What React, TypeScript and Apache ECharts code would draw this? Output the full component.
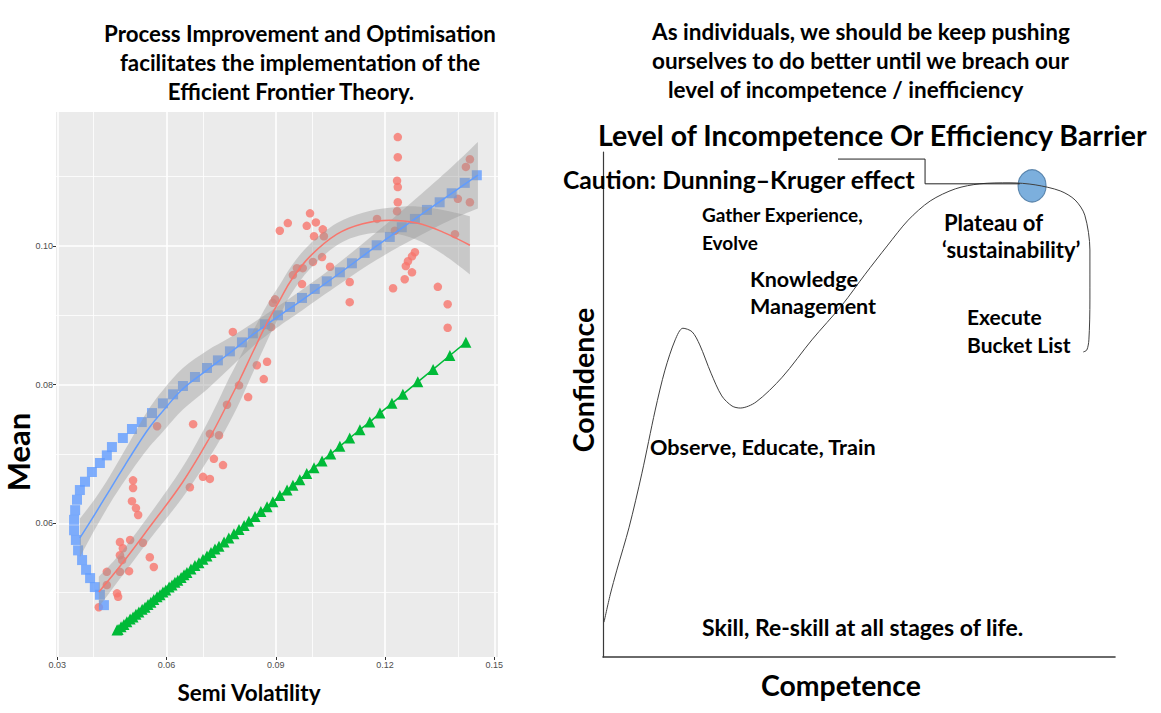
import React, { useEffect, useRef } from "react";
import * as echarts from "echarts";

// ---------- Left chart: tick / grid values ----------
const xMajor = [0.03, 0.06, 0.09, 0.12, 0.15];
const xMinor = [0.045, 0.075, 0.105, 0.135];
const yMajor = [0.06, 0.08, 0.1];
const yMinor = [0.05, 0.07, 0.09, 0.11];

// ---------- Left chart: data ----------
const redPoints = [
  [0.0414, 0.0479], [0.0436, 0.053], [0.0436, 0.0511], [0.0464, 0.0499], [0.0467, 0.0494],
  [0.0472, 0.053], [0.0497, 0.0531], [0.0472, 0.0573], [0.05, 0.0576], [0.0535, 0.0572],
  [0.048, 0.0564], [0.0472, 0.0554], [0.0478, 0.0547], [0.0554, 0.0551], [0.0565, 0.0537],
  [0.0508, 0.0662], [0.0508, 0.0651], [0.0505, 0.0632], [0.0516, 0.0622], [0.0522, 0.0612],
  [0.0574, 0.074], [0.0664, 0.0652], [0.0673, 0.0743], [0.07, 0.0667], [0.0719, 0.0664],
  [0.0719, 0.0729], [0.0744, 0.0727], [0.073, 0.0693], [0.0755, 0.0684], [0.0766, 0.0771],
  [0.0799, 0.0799], [0.0824, 0.0782], [0.0782, 0.0876], [0.0848, 0.0828], [0.0876, 0.0833],
  [0.0867, 0.0808], [0.0887, 0.0883], [0.0892, 0.0918], [0.0898, 0.0923], [0.0911, 0.1022],
  [0.0933, 0.1033], [0.0994, 0.1047], [0.0985, 0.1029], [0.101, 0.1034], [0.1029, 0.1024],
  [0.1005, 0.1014], [0.1032, 0.1014], [0.0947, 0.0958], [0.0958, 0.0968], [0.0974, 0.0968],
  [0.0972, 0.0945], [0.1002, 0.0977], [0.1027, 0.0984], [0.1049, 0.097], [0.1103, 0.0948],
  [0.1103, 0.0919], [0.1178, 0.1039], [0.1235, 0.1157], [0.1235, 0.1128], [0.1233, 0.1094],
  [0.1235, 0.1085], [0.1235, 0.1063], [0.1233, 0.105], [0.1227, 0.1022], [0.1282, 0.0991],
  [0.1274, 0.0985], [0.1263, 0.0978], [0.1257, 0.0971], [0.1274, 0.0962], [0.1254, 0.0952],
  [0.1222, 0.0939], [0.1345, 0.0941], [0.1372, 0.0916], [0.1372, 0.0882], [0.1392, 0.1017],
  [0.14, 0.1068], [0.1433, 0.1063], [0.1422, 0.1114], [0.1433, 0.1125],
];

const bluePoints = [
  [0.0428, 0.0482], [0.0417, 0.0497], [0.0403, 0.0508], [0.039, 0.0521], [0.0379, 0.0533],
  [0.0368, 0.0547], [0.0357, 0.0561], [0.0351, 0.0576], [0.0346, 0.059], [0.0346, 0.0605],
  [0.0349, 0.0619], [0.0354, 0.0634], [0.0362, 0.0648], [0.0376, 0.066], [0.0395, 0.0674],
  [0.0417, 0.0687], [0.0436, 0.0698], [0.045, 0.071], [0.048, 0.0723], [0.0505, 0.0736],
  [0.0532, 0.0746], [0.056, 0.0759], [0.059, 0.0773], [0.0618, 0.0786], [0.0645, 0.0798],
  [0.0678, 0.0811], [0.0711, 0.0824], [0.0741, 0.0835], [0.0774, 0.0848], [0.0807, 0.0861],
  [0.0837, 0.0874], [0.087, 0.0887], [0.0906, 0.09], [0.0939, 0.0912], [0.0972, 0.0925],
  [0.1007, 0.0938], [0.104, 0.0949], [0.1076, 0.0962], [0.1109, 0.0975], [0.1144, 0.099],
  [0.1177, 0.1001], [0.1213, 0.1013], [0.1246, 0.1027], [0.1282, 0.1039], [0.1315, 0.1052],
  [0.135, 0.1063], [0.1383, 0.1076], [0.1419, 0.1091], [0.1452, 0.1102],
];

const greenPoints = [
  [0.0464, 0.0446], [0.0467, 0.0447], [0.0475, 0.0451], [0.0483, 0.0454], [0.0491, 0.0458],
  [0.05, 0.0462], [0.0508, 0.0465], [0.0516, 0.0469], [0.0524, 0.0472], [0.0533, 0.0476],
  [0.0541, 0.0479], [0.0549, 0.0483], [0.0557, 0.0486], [0.0565, 0.049], [0.0574, 0.0494],
  [0.0582, 0.0497], [0.059, 0.0501], [0.0598, 0.0504], [0.0607, 0.0508], [0.0615, 0.0511],
  [0.0623, 0.0515], [0.0631, 0.0518], [0.064, 0.0522], [0.0648, 0.0526], [0.0656, 0.0529],
  [0.0667, 0.0534], [0.0678, 0.0539], [0.0689, 0.0543], [0.07, 0.0548], [0.0711, 0.0553],
  [0.0722, 0.0558], [0.0733, 0.0563], [0.0744, 0.0567], [0.0758, 0.0573], [0.0771, 0.0579],
  [0.0785, 0.0585], [0.0799, 0.0591], [0.0813, 0.0597], [0.0826, 0.0603], [0.0843, 0.061],
  [0.0859, 0.0617], [0.0876, 0.0624], [0.0892, 0.0631], [0.0911, 0.064], [0.0931, 0.0648],
  [0.0947, 0.0655], [0.0966, 0.0663], [0.0985, 0.0672], [0.1005, 0.068], [0.1027, 0.069],
  [0.1051, 0.07], [0.1076, 0.0711], [0.1103, 0.0723], [0.1131, 0.0735], [0.1158, 0.0746],
  [0.1186, 0.0759], [0.1219, 0.0773], [0.1249, 0.0786], [0.129, 0.0804], [0.1332, 0.0822],
  [0.1378, 0.0842], [0.1422, 0.0861],
];

// smooth fits (loess) with confidence band
const blueFitX = [0.0362, 0.0403, 0.0445, 0.0486, 0.0522, 0.0554, 0.059, 0.0645, 0.0711, 0.0774, 0.0837, 0.0903, 0.0972, 0.1076, 0.1177, 0.1282, 0.1383, 0.1455];
const blueFitY = [0.0579, 0.0613, 0.0649, 0.0684, 0.0714, 0.0739, 0.0762, 0.0794, 0.0821, 0.0846, 0.0872, 0.0897, 0.0922, 0.0961, 0.1, 0.1039, 0.1076, 0.1102];
const blueLow = [0.0551, 0.0591, 0.0629, 0.0662, 0.0689, 0.0711, 0.0732, 0.0764, 0.0793, 0.0824, 0.0855, 0.0882, 0.0907, 0.0945, 0.098, 0.1011, 0.1038, 0.1054];
const blueHigh = [0.0607, 0.0635, 0.0669, 0.0706, 0.0739, 0.0767, 0.0792, 0.0824, 0.0849, 0.0868, 0.0889, 0.0912, 0.0937, 0.0977, 0.102, 0.1067, 0.1114, 0.115];

const redFitX = [0.0414, 0.0472, 0.0554, 0.0645, 0.0719, 0.0766, 0.0801, 0.0837, 0.0876, 0.0911, 0.0944, 0.0994, 0.1068, 0.1139, 0.1213, 0.1287, 0.1359, 0.1433];
const redFitY = [0.0501, 0.0538, 0.0595, 0.066, 0.0724, 0.0771, 0.0807, 0.0847, 0.0889, 0.0922, 0.0952, 0.0985, 0.1017, 0.1032, 0.1037, 0.1033, 0.102, 0.1001];
const redLow = [0.0479, 0.052, 0.0577, 0.0638, 0.0696, 0.0739, 0.0775, 0.0817, 0.0863, 0.09, 0.0932, 0.0967, 0.1001, 0.1016, 0.1019, 0.1009, 0.0988, 0.0959];
const redHigh = [0.0523, 0.0556, 0.0613, 0.0682, 0.0752, 0.0803, 0.0839, 0.0877, 0.0915, 0.0944, 0.0972, 0.1003, 0.1033, 0.1048, 0.1055, 0.1057, 0.1052, 0.1043];

// ---------- Right diagram: data (competence 0-100, confidence 0-100) ----------
const curveX = [0.2, 1.4, 2.7, 5.1, 7.6, 10.2, 12.1, 14.1, 15.6, 17.4, 18.9, 21.1, 23.2, 25.2, 26.8, 29.9, 35.0, 40.8, 46.7, 51.2, 55.5, 59.6, 63.9, 68.8, 73.6, 79.5, 84.4, 89.3, 92.2, 94.1, 95.1, 95.1, 94.9, 94.5, 93.8];
const curveY = [6.9, 12.3, 17.2, 25.7, 36.4, 48.9, 56.8, 62.8, 65.1, 64.4, 61.8, 56.2, 51.7, 49.7, 49.3, 50.5, 55.4, 62.8, 69.7, 75.8, 81.4, 86.5, 90.3, 92.7, 93.7, 93.9, 93.5, 92.3, 90.5, 87.5, 80.6, 70.7, 62.8, 60.8, 60.4];
const barrierPoint = [83.8, 93.3];
const connectorX = [45.9, 62.9, 62.9, 81.4];
const connectorY = [98.6, 98.6, 93.7, 93.7];

const FONT = "Lato, 'Open Sans', sans-serif";
const TICK_FONT = "'Liberation Sans', Arial, sans-serif";

const zip = (xs: number[], ys: number[]) => xs.map((x, i) => [x, ys[i]]);

function text(t: string, x: number, y: number, size: number, align = "left", rotate = 0) {
  return {
    type: "text",
    x,
    y,
    rotation: rotate,
    silent: true,
    z: 20,
    style: {
      text: t,
      fill: "#000",
      font: `bold ${size}px ${FONT}`,
      align,
      verticalAlign: "middle",
    },
  };
}

// Catmull-Rom spline through pixel points, as SVG path commands
function splinePath(pts: number[][], start: "M" | "L") {
  let d = `${start}${pts[0][0].toFixed(2)},${pts[0][1].toFixed(2)}`;
  for (let i = 0; i < pts.length - 1; i++) {
    const p0 = pts[i - 1] || pts[i];
    const p1 = pts[i];
    const p2 = pts[i + 1];
    const p3 = pts[i + 2] || p2;
    const c1x = p1[0] + (p2[0] - p0[0]) / 6;
    const c1y = p1[1] + (p2[1] - p0[1]) / 6;
    const c2x = p2[0] - (p3[0] - p1[0]) / 6;
    const c2y = p2[1] - (p3[1] - p1[1]) / 6;
    d += ` C${c1x.toFixed(2)},${c1y.toFixed(2)} ${c2x.toFixed(2)},${c2y.toFixed(2)} ${p2[0].toFixed(2)},${p2[1].toFixed(2)}`;
  }
  return d;
}

function bandSeries(xs: number[], low: number[], high: number[]) {
  return {
    type: "custom",
    xAxisIndex: 0,
    yAxisIndex: 0,
    data: [[xs[0], low[0]]],
    silent: true,
    clip: true,
    z: 3,
    renderItem: (_params: any, api: any) => {
      const up: number[][] = [];
      const lo: number[][] = [];
      for (let i = 0; i < xs.length; i++) up.push(api.coord([xs[i], high[i]]));
      for (let i = xs.length - 1; i >= 0; i--) lo.push(api.coord([xs[i], low[i]]));
      const d = splinePath(up, "M") + " " + splinePath(lo, "L") + " Z";
      return {
        type: "path",
        shape: { pathData: d },
        style: { fill: "rgba(153,153,153,0.42)" },
        silent: true,
      };
    },
  };
}

function buildOption() {
  const gridLines = [
    ...xMajor.map((v) => ({ xAxis: v, lineStyle: { width: 1.6 } })),
    ...xMinor.map((v) => ({ xAxis: v, lineStyle: { width: 0.8 } })),
    ...yMajor.map((v) => ({ yAxis: v, lineStyle: { width: 1.6 } })),
    ...yMinor.map((v) => ({ yAxis: v, lineStyle: { width: 0.8 } })),
  ];

  return {
    animation: false,
    grid: [
      { left: 56, top: 112, width: 442, height: 545, show: true, backgroundColor: "#EBEBEB", borderWidth: 0 },
      { left: 603, top: 152, width: 512, height: 505, show: false },
    ],
    xAxis: [
      {
        type: "value",
        gridIndex: 0,
        min: 0.02964,
        max: 0.15102,
        axisLine: { show: false },
        splitLine: { show: false },
        axisTick: { show: true, customValues: xMajor, length: 3, lineStyle: { color: "#333", width: 1 } },
        axisLabel: {
          show: true,
          customValues: xMajor,
          formatter: (v: number) => v.toFixed(2),
          color: "#4D4D4D",
          fontSize: 9,
          margin: 3,
          fontFamily: TICK_FONT,
        },
      },
      {
        type: "value",
        gridIndex: 1,
        min: 0,
        max: 100,
        axisLine: { show: true, onZero: false, lineStyle: { color: "#3a3a3a", width: 1.6 } },
        axisTick: { show: false },
        axisLabel: { show: false },
        splitLine: { show: false },
      },
    ],
    yAxis: [
      {
        type: "value",
        gridIndex: 0,
        min: 0.04072,
        max: 0.11932,
        axisLine: { show: false },
        splitLine: { show: false },
        axisTick: { show: true, customValues: yMajor, length: 3, lineStyle: { color: "#333", width: 1 } },
        axisLabel: {
          show: true,
          customValues: yMajor,
          formatter: (v: number) => v.toFixed(2),
          color: "#4D4D4D",
          fontSize: 9,
          margin: 3,
          fontFamily: TICK_FONT,
        },
      },
      {
        type: "value",
        gridIndex: 1,
        min: 0,
        max: 100,
        axisLine: { show: true, onZero: false, lineStyle: { color: "#3a3a3a", width: 1.2 } },
        axisTick: { show: false },
        axisLabel: { show: false },
        splitLine: { show: false },
      },
    ],
    series: [
      {
        type: "scatter",
        name: "grid",
        xAxisIndex: 0,
        yAxisIndex: 0,
        data: [],
        silent: true,
        z: 1,
        markLine: {
          silent: true,
          z: 1,
          symbol: ["none", "none"],
          label: { show: false },
          lineStyle: { color: "#FFFFFF", type: "solid" },
          emphasis: { disabled: true },
          data: gridLines,
        },
      },
      {
        type: "scatter",
        name: "red",
        xAxisIndex: 0,
        yAxisIndex: 0,
        data: redPoints,
        symbol: "circle",
        symbolSize: 8.5,
        itemStyle: { color: "#F8766D" },
        z: 2,
      },
      {
        type: "scatter",
        name: "blue",
        xAxisIndex: 0,
        yAxisIndex: 0,
        data: bluePoints,
        symbol: "rect",
        symbolSize: 10,
        itemStyle: { color: "#619CFF" },
        z: 2,
      },
      {
        type: "line",
        name: "green",
        xAxisIndex: 0,
        yAxisIndex: 0,
        data: greenPoints,
        symbol: "triangle",
        symbolSize: 11,
        showAllSymbol: true,
        itemStyle: { color: "#00BA38" },
        lineStyle: { color: "#00BA38", width: 1.5 },
        z: 2,
      },
      bandSeries(blueFitX, blueLow, blueHigh),
      bandSeries(redFitX, redLow, redHigh),
      {
        type: "line",
        name: "blueFit",
        xAxisIndex: 0,
        yAxisIndex: 0,
        data: zip(blueFitX, blueFitY),
        smooth: 0.4,
        symbol: "none",
        lineStyle: { color: "#619CFF", width: 1.5 },
        z: 4,
      },
      {
        type: "line",
        name: "redFit",
        xAxisIndex: 0,
        yAxisIndex: 0,
        data: zip(redFitX, redFitY),
        smooth: 0.4,
        symbol: "none",
        lineStyle: { color: "#F8766D", width: 1.5 },
        z: 4,
      },
      // right diagram
      {
        type: "scatter",
        name: "barrier",
        xAxisIndex: 1,
        yAxisIndex: 1,
        data: [barrierPoint],
        symbol: "circle",
        symbolSize: [28, 32],
        itemStyle: { color: "#5B9BD5", borderColor: "#41719C", borderWidth: 1.2 },
        z: 2,
      },
      {
        type: "line",
        name: "curve",
        xAxisIndex: 1,
        yAxisIndex: 1,
        data: zip(curveX, curveY),
        smooth: 0.3,
        symbol: "none",
        lineStyle: { color: "#404040", width: 1 },
        z: 3,
      },
      {
        type: "lines",
        name: "connector",
        coordinateSystem: "cartesian2d",
        xAxisIndex: 1,
        yAxisIndex: 1,
        polyline: true,
        symbol: ["none", "arrow"],
        symbolSize: 7,
        lineStyle: { color: "#222", width: 1, opacity: 1 },
        data: [{ coords: zip(connectorX, connectorY) }],
        z: 4,
      },
    ],
    graphic: [
      text("Process Improvement and Optimisation", 300, 33, 22.3, "center"),
      text("facilitates the implementation of the", 300, 62, 22.3, "center"),
      text("Efficient Frontier Theory.", 291, 91, 22.3, "center"),
      text("Mean", 18, 452, 31, "center", Math.PI / 2),
      text("Semi Volatility", 249, 692, 22.5, "center"),
      text("As individuals, we should be keep pushing", 652, 31, 22.5),
      text("ourselves to do better until we breach our", 652, 60, 22.5),
      text("level of incompetence / inefficiency", 668, 89, 22.5),
      text("Level of Incompetence Or Efficiency Barrier", 598, 135, 28.5),
      text("Caution: Dunning\u2013Kruger effect", 563, 179, 24.7),
      text("Gather Experience,", 702, 214, 19),
      text("Evolve", 702, 242, 19),
      text("Knowledge", 750, 279, 21.5),
      text("Management", 750, 306, 21.5),
      text("Plateau of", 944, 222, 22),
      text("\u2018sustainability\u2019", 942, 249, 22),
      text("Execute", 967, 316, 21),
      text("Bucket List", 967, 344, 21),
      text("Observe, Educate, Train", 650, 447, 21.6),
      text("Skill, Re-skill at all stages of life.", 702, 627, 23),
      text("Confidence", 583, 380, 28.6, "center", Math.PI / 2),
      text("Competence", 841, 685, 28.4, "center"),
    ],
  };
}

export default function App() {
  const ref = useRef<HTMLDivElement>(null);
  useEffect(() => {
    if (!ref.current) return;
    const chart = echarts.init(ref.current, undefined, { renderer: "svg" });
    chart.setOption(buildOption() as any);
    return () => chart.dispose();
  }, []);
  return (
    <div
      ref={ref}
      style={{ position: "fixed", left: 0, top: 0, width: 1161, height: 713, background: "#FFFFFF" }}
    />
  );
}
